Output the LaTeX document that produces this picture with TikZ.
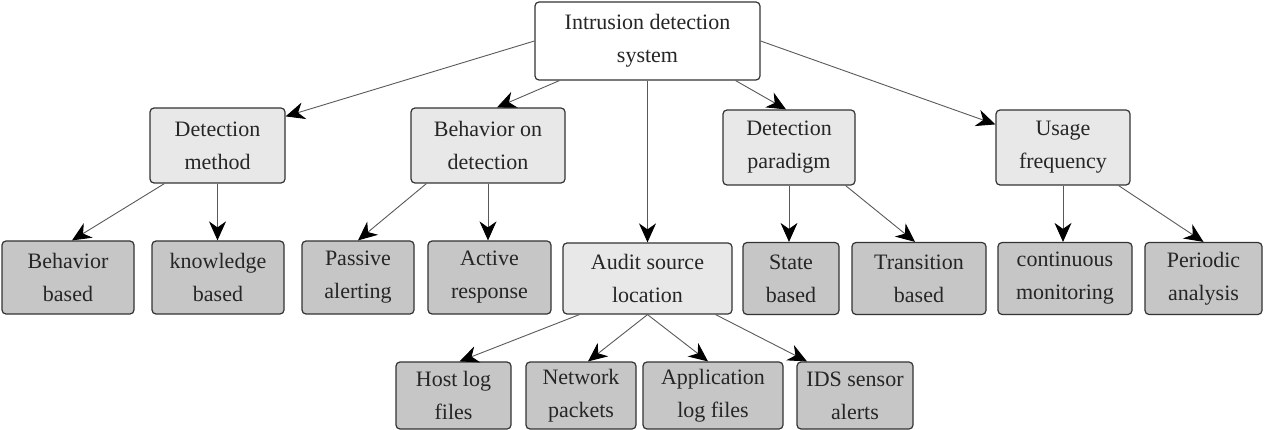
\documentclass[tikz,border=0pt]{standalone}
\usepackage{fontspec}
\setmainfont{Liberation Serif}
\usetikzlibrary{arrows.meta}
\begin{document}
\begin{tikzpicture}[x=1pt,y=-1pt,
  box/.style={draw=black!80, rounded corners=4pt, line width=1.2pt, align=center, inner sep=0pt,
    font=\fontsize{22}{33}\selectfont, text=black!85},
  root/.style={box, fill=white},
  cat/.style={box, fill=gray!18},
  leaf/.style={box, fill=gray!45},
  arr/.style={-{Stealth[length=19pt,width=17pt,inset=6pt,color=black]}, draw=black!65, line width=0.9pt}]
\useasboundingbox (0,0) rectangle (1266,430);
% root
\node[root, minimum width=225pt, minimum height=78pt] (ids0) at (647.5,41) {Intrusion detection\\system};
% categories
\node[cat, minimum width=135pt, minimum height=75pt] (dm) at (217.5,145.5) {Detection\\method};
\node[cat, minimum width=154pt, minimum height=75pt] (bod) at (488,145.5) {Behavior on\\detection};
\node[cat, minimum width=132pt, minimum height=75pt] (dp) at (789,147.5) {Detection\\paradigm};
\node[cat, minimum width=134pt, minimum height=75pt] (uf) at (1063,147.5) {Usage\\frequency};
\node[cat, minimum width=169pt, minimum height=71pt] (asl) at (647.5,278.5) {Audit source\\location};
% leaves row 2
\node[leaf, minimum width=132pt, minimum height=73pt] (bb) at (68,277.5) {Behavior\\based};
\node[leaf, minimum width=132pt, minimum height=73pt] (kb) at (218,277.5) {knowledge\\based};
\node[leaf, minimum width=112pt, minimum height=73pt] (pa) at (358,277.5) {Passive\\alerting};
\node[leaf, minimum width=123pt, minimum height=73pt] (ar) at (489.5,277.5) {Active\\response};
\node[leaf, minimum width=96pt, minimum height=72pt] (sb) at (791,278.5) {State\\based};
\node[leaf, minimum width=134pt, minimum height=72pt] (tb) at (919,278.5) {Transition\\based};
\node[leaf, minimum width=134pt, minimum height=72pt] (cm) at (1065,278.5) {continuous\\monitoring};
\node[leaf, minimum width=117pt, minimum height=72pt] (pan) at (1203.5,278.5) {Periodic\\analysis};
% leaves row 3
\node[leaf, minimum width=115pt, minimum height=67pt] (hl) at (453.5,395.5) {Host log\\files};
\node[leaf, minimum width=110pt, minimum height=67pt] (np) at (581,395.5) {Network\\packets};
\node[leaf, minimum width=140pt, minimum height=67pt] (al) at (713,395.5) {Application\\log files};
\node[leaf, minimum width=116pt, minimum height=67pt] (is) at (855,395.5) {IDS sensor\\alerts};
% connectors from root
\draw[arr] (ids0.west) -- ([yshift=-9pt]dm.north east);
\draw[arr] ([xshift=25pt]ids0.south west) -- ([xshift=9pt]bod.north);
\draw[arr] (ids0.south) -- (asl.north);
\draw[arr] ([xshift=-25pt]ids0.south east) -- ([xshift=-3pt]dp.north);
\draw[arr] (ids0.east) -- ([yshift=-15pt]uf.north west);
% detection method
\draw[arr] ([xshift=15pt]dm.south west) -- ([xshift=4pt]bb.north);
\draw[arr] (dm.south) -- (dm.south |- kb.north);
% behavior on detection
\draw[arr] ([xshift=16pt]bod.south west) -- (pa.north);
\draw[arr] (bod.south) -- (bod.south |- ar.north);
% detection paradigm
\draw[arr] (dp.south) -- (dp.south |- sb.north);
\draw[arr] ([xshift=-10pt]dp.south east) -- ([xshift=-4pt]tb.north);
% usage frequency
\draw[arr] (uf.south) -- (uf.south |- cm.north);
\draw[arr] ([xshift=-12pt]uf.south east) -- (pan.north);
% audit source
\draw[arr] ([xshift=17pt]asl.south west) -- ([xshift=6pt]hl.north);
\draw[arr] (asl.south) -- ([xshift=7pt]np.north);
\draw[arr] (asl.south) -- ([xshift=-5pt]al.north);
\draw[arr] ([xshift=-17pt]asl.south east) -- ([xshift=-48pt]is.north);
\end{tikzpicture}
\end{document}
